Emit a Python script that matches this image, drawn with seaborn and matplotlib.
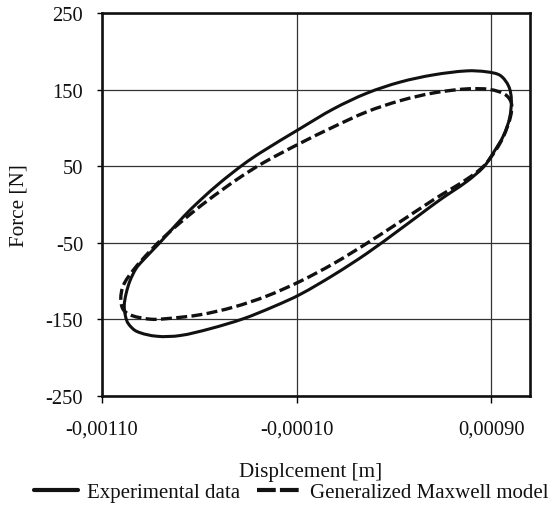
import matplotlib
matplotlib.use("Agg")
import matplotlib.pyplot as plt
from matplotlib.path import Path
from matplotlib.patches import PathPatch
import numpy as np
import pandas as pd
import seaborn as sns

# ---- data ----
series_names = ["Experimental data", "Generalized Maxwell model"]

exp_x = [0.001002, 0.000988, 0.000945, 0.000877, 0.000774, 0.000603, 0.000432,
         0.000261, 0.000089, -0.000082, -0.000287, -0.000373, -0.000493,
         -0.000595, -0.000681, -0.000801, -0.000895, -0.000924, -0.000955,
         -0.000975, -0.000984, -0.000978, -0.000963, -0.000920, -0.000818,
         -0.000698, -0.000544, -0.000373, -0.000219, -0.000082, 0.000089,
         0.000261, 0.000432, 0.000535, 0.000640, 0.000774, 0.000860, 0.000911,
         0.000962, 0.000993, 0.001002]
exp_y = [136.7, 154.4, 168.4, 173.1, 174.4, 169.2, 159.8,
         145.3, 124.7, 99.0, 67.2, 52.2, 28.2,
         5.2, -16.3, -49.9, -75.0, -84.0, -100.0,
         -117.0, -132.0, -146.0, -156.0, -166.0, -172.3,
         -171.4, -162.5, -149.4, -133.7, -117.7, -92.4,
         -64.0, -32.4, -13.0, 6.7, 30.0, 49.0, 68.0,
         90.0, 113.0, 136.7]

mod_x = [0.001002, 0.000971, 0.000894, 0.000774, 0.000603, 0.000432, 0.000261,
         0.000089, -0.000082, -0.000270, -0.000400, -0.000561, -0.000681,
         -0.000775, -0.000852, -0.000938, -0.000989, -0.001002, -0.000989,
         -0.000946, -0.000852, -0.000766, -0.000595, -0.000424, -0.000253,
         -0.000082, 0.000089, 0.000261, 0.000432, 0.000603, 0.000774,
         0.000860, 0.000925, 0.000962, 0.000997, 0.001002]
mod_y = [132.3, 143.3, 150.0, 150.9, 145.6, 135.5, 121.0,
         101.2, 79.8, 54.4, 33.6, 4.1, -20.4,
         -41.5, -61.1, -86.0, -106.0, -124.0, -137.6,
         -145.2, -150.0, -149.3, -144.2, -134.3, -119.8,
         -100.6, -77.5, -50.8, -22.6, 6.1, 33.0,
         50.0, 72.0, 89.0, 114.0, 132.3]

x_ticks = [-0.0011, -0.0001, 0.0009]
x_tick_labels = ["-0,00110", "-0,00010", "0,00090"]
y_ticks = [-250, -150, -50, 50, 150, 250]
y_tick_labels = ["-250", "-150", "-50", "50", "150", "250"]


def smooth_closed_path(xs, ys, sx, sy):
    """Smoothed (chord-length cubic Hermite) closed path through the points,
    like a spreadsheet's 'smoothed line' option."""
    p = np.column_stack([np.asarray(xs) * sx, np.asarray(ys) * sy])
    if np.allclose(p[0], p[-1]):
        p = p[:-1]
    n = len(p)
    d = np.linalg.norm(np.roll(p, -1, axis=0) - p, axis=1)  # d[i] = |p[i+1]-p[i]|
    m = np.zeros_like(p)
    for i in range(n):
        m[i] = (p[(i + 1) % n] - p[i - 1]) / (d[i - 1] + d[i])
    verts = [p[0]]
    codes = [Path.MOVETO]
    for i in range(n):
        j = (i + 1) % n
        c1 = p[i] + m[i] * d[i] / 3.0
        c2 = p[j] - m[j] * d[i] / 3.0
        verts += [c1, c2, p[j]]
        codes += [Path.CURVE4] * 3
    verts = np.array(verts)
    verts[:, 0] /= sx
    verts[:, 1] /= sy
    return Path(verts, codes)


# ---- styling ----
sns.set_theme(style="white")
plt.rcParams["font.family"] = ["Liberation Serif", "DejaVu Serif"]

fig = plt.figure(figsize=(5.52, 5.06), dpi=100)
ax = fig.add_axes([0.1842, 0.2160, 0.7768, 0.7563])

df_exp = pd.DataFrame({"x": exp_x, "y": exp_y})
df_mod = pd.DataFrame({"x": mod_x, "y": mod_y})

ink = "#111111"
exp_style = dict(color=ink, linewidth=2.2)
mod_style = dict(color=ink, linewidth=2.4, linestyle=(0, (3.3, 1.3)))

sns.lineplot(data=df_exp, x="x", y="y", sort=False, estimator=None,
             ax=ax, label=series_names[0], **exp_style)
sns.lineplot(data=df_mod, x="x", y="y", sort=False, estimator=None,
             ax=ax, label=series_names[1], **mod_style)

ax.set_xlim(-0.0011, 0.0011)
ax.set_ylim(-250, 250)
ax.set_xticks(x_ticks)
ax.set_xticklabels(x_tick_labels)
ax.set_yticks(y_ticks)
ax.set_yticklabels(y_tick_labels)

ax.grid(True, color="#333333", linewidth=0.9)
ax.set_axisbelow(True)

ax.tick_params(axis="x", direction="out", bottom=True, length=4.8, width=1.0,
               color="black", pad=12.5, labelsize=14.8, labelcolor=ink)
ax.tick_params(axis="y", direction="out", left=True, length=3.6, width=1.0,
               color="black", pad=9.6, labelsize=14.8, labelcolor=ink)

for s in ax.spines.values():
    s.set_visible(True)
    s.set_color(ink)
    s.set_linewidth(1.9)
    s.set_zorder(5)

ax.set_xlabel("Displcement [m]", fontsize=15.2, va="center", color=ink)
ax.xaxis.set_label_coords(0.488, -0.198)
ax.set_ylabel("Force [N]", fontsize=15.2, va="center", color=ink)
ax.yaxis.set_label_coords(-0.192, 0.5)

handles, labels = ax.get_legend_handles_labels()
if ax.get_legend() is not None:
    ax.get_legend().remove()
leg = fig.legend(handles, labels, loc="center left",
                 bbox_to_anchor=(34 / 552, 1 - 493.3 / 506), ncol=2,
                 frameon=False, fontsize=15.0, handlelength=2.1,
                 handletextpad=0.45, columnspacing=0.8, borderpad=0,
                 borderaxespad=0)
for t in leg.get_texts():
    t.set_color(ink)
leg_lines = leg.get_lines()
leg_lines[0].set_linewidth(3.0)
leg_lines[1].set_linewidth(3.0)
leg_lines[1].set_linestyle((0, (4.5, 1.0)))

# render the seaborn-drawn loops as smoothed curves through the same points
sx, sy = 194750.0, 0.7654
for line, style in zip(ax.get_lines()[:2], [exp_style, mod_style]):
    xd, yd = line.get_xdata(), line.get_ydata()
    patch = PathPatch(smooth_closed_path(xd, yd, sx, sy), fill=False,
                      edgecolor=style["color"], linewidth=style["linewidth"],
                      linestyle=style.get("linestyle", "-"),
                      capstyle="butt", joinstyle="round", zorder=3)
    ax.add_patch(patch)
    line.set_visible(False)

fig.savefig("out.png", dpi=100)
